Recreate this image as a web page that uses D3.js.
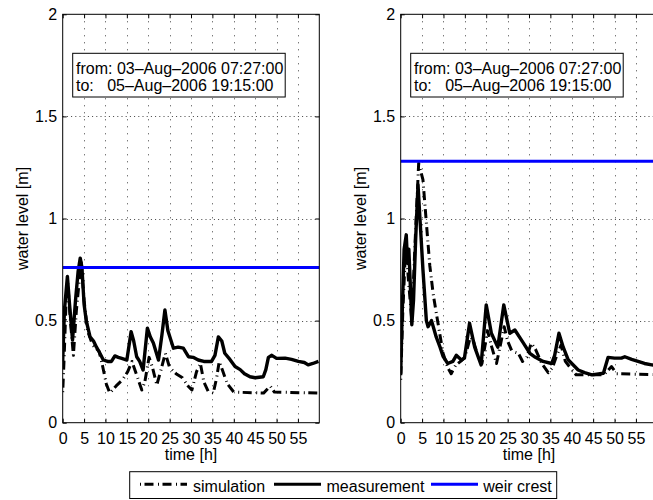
<!DOCTYPE html>
<html>
<head>
<meta charset="utf-8">
<script src="https://cdn.jsdelivr.net/npm/d3@7"></script>
<style>
  body { margin: 0; background: #fff; }
  svg { display: block; }
  text { font-family: "Liberation Sans", Arial, Helvetica, sans-serif; }
</style>
</head>
<body>
<script>
// ---- data -------------------------------------------------------------
// time axis ticks (hours) and water level ticks (m)
const timeTicks = [0, 5, 10, 15, 20, 25, 30, 35, 40, 45, 50, 55];
const levelTicks = [0, 0.5, 1, 1.5, 2];
const levelTickLabels = ["0", "0.5", "1", "1.5", "2"];

const periodLines = ["from: 03–Aug–2006 07:27:00", "to:   05–Aug–2006 19:15:00"];
const seriesNames = ["simulation", "measurement", "weir crest"];

// left gauge
const leftMeasTime = [0, 0.4, 1.1, 1.6, 2.3, 3.0, 3.6, 4.1, 4.5, 5.0, 5.5, 6.4, 7.2, 7.9, 8.7, 9.5, 10.5, 11.4, 12.2, 13.0,
  13.8, 15.0, 16.0, 16.6, 17.3, 18.0, 18.8, 19.8, 20.5, 21.2, 22.4, 23.2, 23.9, 24.6, 25.9, 27, 28.2, 29.4, 30.5, 31.7,
  33, 34.8, 35.6, 36.4, 37.2, 37.9, 39.1, 40.3, 41.5, 42.5, 43.8, 45, 46.9, 47.5, 48.1, 48.9, 50, 52, 53.5, 55.1,
  56.5, 57.4, 58.5, 59.8];
const leftMeasured = [0.3, 0.55, 0.716, 0.58, 0.405, 0.6, 0.74, 0.806, 0.76, 0.58, 0.5, 0.42, 0.4, 0.37, 0.34, 0.307, 0.3, 0.3, 0.327, 0.32,
  0.315, 0.307, 0.446, 0.4, 0.323, 0.3, 0.258, 0.463, 0.42, 0.39, 0.307, 0.43, 0.552, 0.45, 0.365, 0.37, 0.365, 0.323, 0.32, 0.307,
  0.3, 0.3, 0.33, 0.42, 0.4, 0.34, 0.31, 0.275, 0.26, 0.24, 0.225, 0.22, 0.225, 0.26, 0.32, 0.33, 0.315, 0.316, 0.31, 0.3,
  0.295, 0.283, 0.29, 0.3];
const leftSimTime = [0, 0.3, 0.8, 1.2, 1.8, 2.5, 3.2, 4.3, 5.0, 5.8, 7, 8.5, 9.3, 10.2, 11, 12.5, 14, 15.2, 16.2, 17.2,
  18.5, 19.2, 20.2, 21, 22, 23, 24, 25, 26.5, 28, 29.3, 30.2, 31.3, 32.2, 33, 34, 35.2, 36, 36.6, 37.3,
  38.5, 40, 47, 48.5, 49.5, 60];
const leftSimulated = [0.15, 0.3, 0.6, 0.68, 0.5, 0.33, 0.55, 0.79, 0.6, 0.45, 0.38, 0.35, 0.28, 0.19, 0.145, 0.18, 0.21, 0.25, 0.3, 0.24,
  0.16, 0.2, 0.32, 0.27, 0.185, 0.26, 0.34, 0.27, 0.24, 0.22, 0.18, 0.16, 0.25, 0.29, 0.2, 0.155, 0.145, 0.22, 0.3, 0.26,
  0.19, 0.15, 0.145, 0.18, 0.15, 0.145];
const leftWeirCrest = 0.76;

// right gauge
const rightMeasTime = [0, 0.3, 0.8, 1.3, 1.6, 1.9, 2.2, 2.6, 3.0, 3.5, 4.05, 4.5, 5.2, 6.0, 6.4, 7.2, 8.3, 9.2, 9.9, 11,
  12.2, 13, 14.2, 14.9, 16.1, 17.3, 18.8, 20, 21.2, 22.7, 24.1, 25.5, 26.7, 28.7, 30.2, 31.5, 33.3, 35.3, 36, 37,
  38, 39.2, 41.5, 43, 44.7, 47.4, 48.5, 50, 51.6, 52.4, 54, 55.5, 57, 58.7, 60];
const rightMeasured = [0.24, 0.5, 0.85, 0.92, 0.78, 0.85, 0.7, 0.48, 0.6, 0.9, 1.165, 1.0, 0.75, 0.5, 0.47, 0.5, 0.42, 0.37, 0.325, 0.29,
  0.3, 0.33, 0.307, 0.316, 0.487, 0.37, 0.283, 0.577, 0.438, 0.37, 0.577, 0.438, 0.454, 0.39, 0.34, 0.32, 0.3, 0.29, 0.33, 0.438,
  0.37, 0.307, 0.258, 0.245, 0.234, 0.242, 0.32, 0.316, 0.316, 0.323, 0.31, 0.3, 0.29, 0.283, 0.28];
const rightSimTime = [0, 0.5, 1.2, 1.8, 2.6, 3.4, 4.2, 5.2, 6, 6.8, 7.6, 8.3, 9.1, 9.9, 11, 11.8, 12.8, 14, 15, 16.3,
  17, 18, 19, 20.3, 21.3, 22.4, 23.3, 24.2, 25, 26, 27.5, 28.5, 29.5, 30.5, 31.5, 33, 34.5, 35.5, 36.5, 37.5,
  38.5, 40, 41, 47.5, 49.3, 50.5, 60];
const rightSimulated = [0.21, 0.55, 0.88, 0.7, 0.5, 0.9, 1.27, 1.19, 0.98, 0.77, 0.63, 0.54, 0.44, 0.34, 0.27, 0.24, 0.28, 0.3, 0.32, 0.42,
  0.4, 0.33, 0.29, 0.45, 0.37, 0.29, 0.38, 0.47, 0.4, 0.35, 0.34, 0.3, 0.32, 0.39, 0.36, 0.29, 0.245, 0.27, 0.33, 0.38,
  0.3, 0.26, 0.235, 0.235, 0.275, 0.24, 0.235];
const rightWeirCrest = 1.28;

// ---- layout -----------------------------------------------------------
const W = 653, H = 500;
const plotTop = 14.3, plotBottom = 422.7, plotWidth = 256.6;
const FONT = 16;
const FAMILY = '"Liberation Sans", Arial, Helvetica, sans-serif';
const simDash = "1,3.5,9,4.5";

const svg = d3.select("body").append("svg")
  .attr("width", W).attr("height", H);

const panels = [
  { left: 62.7, mt: leftMeasTime, mv: leftMeasured, st: leftSimTime, sv: leftSimulated, crest: leftWeirCrest },
  { left: 400.7, mt: rightMeasTime, mv: rightMeasured, st: rightSimTime, sv: rightSimulated, crest: rightWeirCrest }
];

panels.forEach((p, i) => {
  const x = d3.scaleLinear().domain([0, 60]).range([p.left, p.left + plotWidth]);
  const y = d3.scaleLinear().domain([0, 2]).range([plotBottom, plotTop]);
  const g = svg.append("g");

  const clipId = "clip" + i;
  svg.append("clipPath").attr("id", clipId).append("rect")
    .attr("x", p.left).attr("y", plotTop)
    .attr("width", plotWidth).attr("height", plotBottom - plotTop);

  // white plot background
  g.append("rect").attr("x", p.left).attr("y", plotTop)
    .attr("width", plotWidth).attr("height", plotBottom - plotTop)
    .attr("fill", "#fff");

  // dotted grid
  const grid = g.append("g").attr("stroke", "#222").attr("stroke-width", 1).attr("opacity", 0.85);
  grid.selectAll("line.v").data(timeTicks.filter(t => t > 0)).join("line")
    .attr("x1", d => Math.round(x(d)) + 0.5).attr("x2", d => Math.round(x(d)) + 0.5)
    .attr("y1", plotTop).attr("y2", plotBottom)
    .attr("stroke-dasharray", "1,6");
  grid.selectAll("line.h").data(levelTicks.filter(v => v > 0 && v < 2)).join("line")
    .attr("y1", d => Math.round(y(d)) + 0.5).attr("y2", d => Math.round(y(d)) + 0.5)
    .attr("x1", p.left).attr("x2", p.left + plotWidth)
    .attr("stroke-dasharray", "1,3.2");

  const lines = g.append("g").attr("clip-path", `url(#${clipId})`);
  const line = d3.line().x(d => x(d[0])).y(d => y(d[1]));

  // simulation (dash-dot)
  lines.append("path")
    .attr("d", line(d3.zip(p.st, p.sv)))
    .attr("fill", "none").attr("stroke", "#000").attr("stroke-width", 3)
    .attr("stroke-dasharray", simDash).attr("stroke-linejoin", "round");

  // measurement
  lines.append("path")
    .attr("d", line(d3.zip(p.mt, p.mv)))
    .attr("fill", "none").attr("stroke", "#000").attr("stroke-width", 3.4)
    .attr("stroke-linejoin", "round");

  // weir crest
  lines.append("line")
    .attr("x1", x(0)).attr("x2", x(60))
    .attr("y1", y(p.crest)).attr("y2", y(p.crest))
    .attr("stroke", "#0000ff").attr("stroke-width", 3);

  // axes with inward ticks
  const fmtY = d => levelTickLabels[levelTicks.indexOf(d)];
  const ax = g.append("g");

  const bottom = ax.append("g").attr("transform", `translate(0,${plotBottom})`)
    .call(d3.axisBottom(x).tickValues(timeTicks).tickSizeInner(-4).tickSizeOuter(0).tickPadding(9.5));
  const top = ax.append("g").attr("transform", `translate(0,${plotTop})`)
    .call(d3.axisTop(x).tickValues(timeTicks).tickSizeInner(-4).tickSizeOuter(0).tickFormat(""));
  const leftAx = ax.append("g").attr("transform", `translate(${p.left},0)`)
    .call(d3.axisLeft(y).tickValues(levelTicks).tickSizeInner(-4).tickSizeOuter(0).tickPadding(5.5).tickFormat(fmtY));
  const rightAx = ax.append("g").attr("transform", `translate(${p.left + plotWidth},0)`)
    .call(d3.axisRight(y).tickValues(levelTicks).tickSizeInner(-4).tickSizeOuter(0).tickFormat(""));

  [bottom, top, leftAx, rightAx].forEach(a => {
    a.attr("font-size", FONT).attr("font-family", FAMILY);
    a.select(".domain").remove();
    a.selectAll("text").attr("fill", "#000");
    a.selectAll(".tick line").attr("stroke", "#000");
  });

  // axes box
  g.append("rect").attr("x", p.left).attr("y", plotTop)
    .attr("width", plotWidth).attr("height", plotBottom - plotTop)
    .attr("fill", "none").attr("stroke", "#000").attr("stroke-width", 1);

  // axis labels
  g.append("text")
    .attr("x", p.left + plotWidth / 2).attr("y", 460)
    .attr("text-anchor", "middle").attr("font-size", FONT)
    .text("time [h]");
  g.append("text")
    .attr("transform", `translate(${p.left - 35},${(plotTop + plotBottom) / 2}) rotate(-90)`)
    .attr("text-anchor", "middle").attr("font-size", FONT)
    .text("water level [m]");

  // period annotation box
  const box = g.append("g");
  box.append("rect")
    .attr("x", p.left + 10).attr("y", 53.3)
    .attr("width", 212.5).attr("height", 43.7)
    .attr("fill", "#fff").attr("stroke", "#000").attr("stroke-width", 1);
  box.selectAll("text").data(periodLines).join("text")
    .attr("x", p.left + 13.3)
    .attr("y", (d, k) => 74 + k * 16.7)
    .attr("font-size", FONT)
    .style("white-space", "pre")
    .text(d => d);
});

// ---- legend -------------------------------------------------------------
const legend = svg.append("g");
legend.append("rect")
  .attr("x", 129.7).attr("y", 471.7).attr("width", 427).attr("height", 26.8)
  .attr("fill", "#fff").attr("stroke", "#000").attr("stroke-width", 1);

const legendItems = [
  { x1: 140, x2: 187, tx: 193, stroke: "#000", dash: simDash },
  { x1: 274, x2: 321, tx: 326.5, stroke: "#000", dash: null },
  { x1: 431, x2: 478, tx: 483.3, stroke: "#0000ff", dash: null }
];
legendItems.forEach((it, k) => {
  legend.append("line")
    .attr("x1", it.x1).attr("x2", it.x2).attr("y1", 484.3).attr("y2", 484.3)
    .attr("stroke", it.stroke).attr("stroke-width", 3)
    .attr("stroke-dasharray", it.dash);
  legend.append("text")
    .attr("x", it.tx).attr("y", 491.5)
    .attr("font-size", FONT)
    .text(seriesNames[k]);
});
</script>
</body>
</html>
